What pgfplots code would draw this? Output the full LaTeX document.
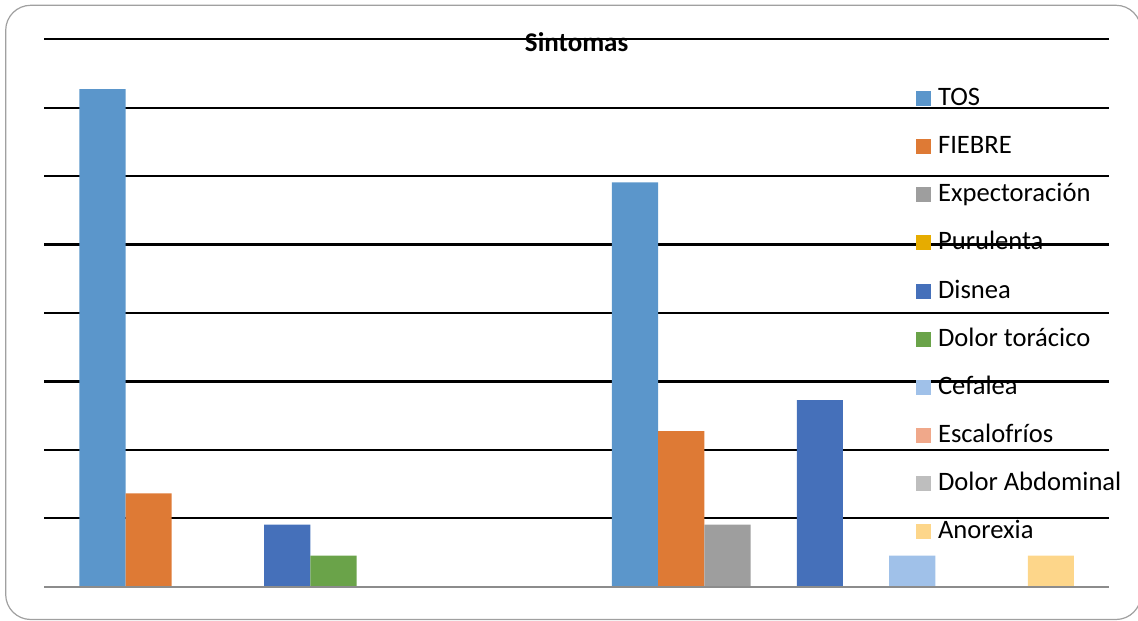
\documentclass[border=0pt]{standalone}
\usepackage{pgfplots}
\pgfplotsset{compat=1.18}
\usepackage{fontspec}
\setmainfont{Carlito}

% series colours
\definecolor{cTos}{HTML}{5B96CB}
\definecolor{cFiebre}{HTML}{DE7A35}
\definecolor{cExpect}{HTML}{9E9E9E}
\definecolor{cPurul}{HTML}{E6AC00}
\definecolor{cDisnea}{HTML}{4570BA}
\definecolor{cDolorT}{HTML}{6AA349}
\definecolor{cCefalea}{HTML}{A0C1E9}
\definecolor{cEscalo}{HTML}{F0A88A}
\definecolor{cDolorA}{HTML}{BEBEBE}
\definecolor{cAnorex}{HTML}{FDD68A}
\definecolor{cFrame}{HTML}{A0A0A0}
\definecolor{cBase}{HTML}{8C8C8C}

\begin{document}
\begin{tikzpicture}[x=1pt,y=1pt]
\useasboundingbox (0,0) rectangle (1138,621);
\draw[cFrame, line width=1.2pt, rounded corners=25pt] (5.7,1.5) rectangle (1141,615.7);
\begin{axis}[
  at={(44pt,34.3pt)}, anchor=south west,
  scale only axis, width=1065.3pt, height=547.4pt,
  xmin=-0.5, xmax=1.5, ymin=0, ymax=80,
  clip=false,
  axis line style={draw=none},
  tick style={draw=none},
  xtick=\empty,
  ytick={10,20,...,80}, yticklabels={},
  ymajorgrids, grid style={black, line width=2.4pt},
  ybar=0pt, bar width=46.2pt,
  title={Sintomas},
  title style={at={(0.5,1)}, anchor=base, yshift=-18.4pt, inner sep=0pt,
    font=\bfseries\fontsize{27}{30}\selectfont},
  legend cell align=left,
  legend image code/.code={\fill[#1] (0pt,-7.5pt) rectangle (15pt,7.5pt);},
  legend style={at={(0.8186,0.9055)}, anchor=north west, draw=none, fill=none,
    inner sep=0pt, outer sep=0pt, row sep=33.15pt, /tikz/column sep=7pt,
    font=\fontsize{26.6}{30}\selectfont,
    nodes={inner sep=0pt, text height=14pt, text depth=0pt}},
]
\addplot[fill=cTos, draw=none]     coordinates {(0,72.73) (1,59.09)};
\addplot[fill=cFiebre, draw=none]  coordinates {(0,13.64) (1,22.73)};
\addplot[fill=cExpect, draw=none]  coordinates {(0,0) (1,9.09)};
\addplot[fill=cPurul, draw=none]   coordinates {(0,0) (1,0)};
\addplot[fill=cDisnea, draw=none]  coordinates {(0,9.09) (1,27.27)};
\addplot[fill=cDolorT, draw=none]  coordinates {(0,4.55) (1,0)};
\addplot[fill=cCefalea, draw=none] coordinates {(0,0) (1,4.55)};
\addplot[fill=cEscalo, draw=none]  coordinates {(0,0) (1,0)};
\addplot[fill=cDolorA, draw=none]  coordinates {(0,0) (1,0)};
\addplot[fill=cAnorex, draw=none]  coordinates {(0,0) (1,4.55)};
\legend{TOS, FIEBRE, Expectoración, Purulenta, Disnea, Dolor torácico, Cefalea, Escalofríos, Dolor Abdominal, Anorexia}
\draw[cBase, line width=2pt] (axis cs:-0.5,0) -- (axis cs:1.5,0);
\end{axis}
\end{tikzpicture}
\end{document}
